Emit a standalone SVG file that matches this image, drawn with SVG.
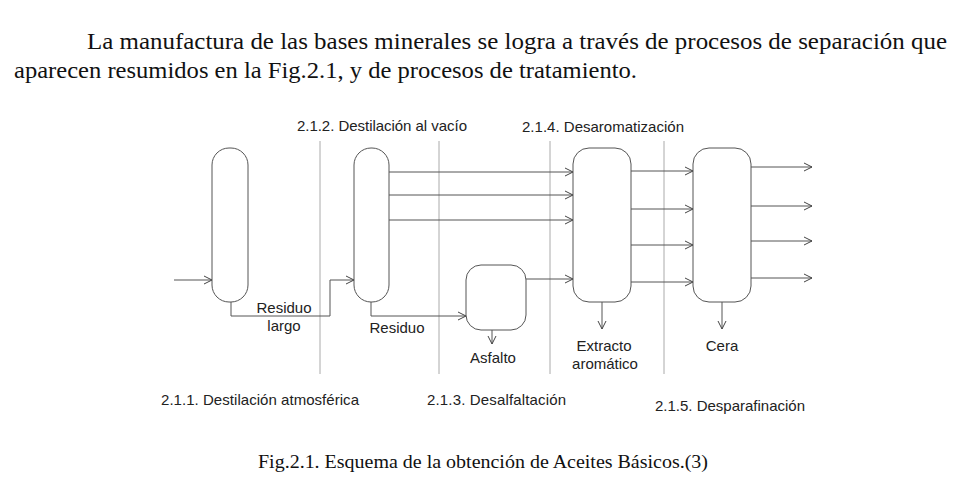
<svg xmlns="http://www.w3.org/2000/svg" width="968" height="484" viewBox="0 0 968 484">
<style>
.u{fill:none;stroke:#555;stroke-width:1}
.sep{stroke:#aaa;stroke-width:1}
.c{fill:none;stroke:#555;stroke-width:1}
.l{font-family:"Liberation Sans",Arial,sans-serif;font-size:15px;fill:#222}
.t{font-family:"Liberation Serif","Times New Roman",serif;font-size:24px;fill:#111}
.cap{font-family:"Liberation Serif","Times New Roman",serif;font-size:19px;fill:#111}
</style>
<defs>
<marker id="a" markerUnits="userSpaceOnUse" markerWidth="10" markerHeight="10" refX="9" refY="5" orient="auto">
<path d="M1,1 L9,5 L1,9" fill="none" stroke="#444" stroke-width="1"/>
</marker>
</defs>
<rect width="968" height="484" fill="#fff"/>
<text class="t" x="87" y="49" textLength="860" lengthAdjust="spacingAndGlyphs">La manufactura de las bases minerales se logra a través de procesos de separación que</text>
<text class="t" x="14" y="78" textLength="623" lengthAdjust="spacingAndGlyphs">aparecen resumidos en la Fig.2.1, y de procesos de tratamiento.</text>

<g id="separators">
<line class="sep" x1="320" y1="141" x2="320" y2="374"/>
<line class="sep" x1="439" y1="141" x2="439" y2="374"/>
<line class="sep" x1="550" y1="141" x2="550" y2="374"/>
<line class="sep" x1="664" y1="141" x2="664" y2="374"/>
</g>

<g id="connectors">
<line class="c" x1="174" y1="280" x2="212" y2="280" marker-end="url(#a)"/>
<polyline class="c" points="231,302 231,316 330,316 330,280 354,280" marker-end="url(#a)"/>
<line class="c" x1="389" y1="172" x2="573" y2="172" marker-end="url(#a)"/>
<line class="c" x1="389" y1="195" x2="573" y2="195" marker-end="url(#a)"/>
<line class="c" x1="389" y1="220" x2="573" y2="220" marker-end="url(#a)"/>
<polyline class="c" points="371,302 371,316 466,316" marker-end="url(#a)"/>
<line class="c" x1="526" y1="279" x2="573" y2="279" marker-end="url(#a)"/>
<line class="c" x1="492" y1="330" x2="492" y2="344" marker-end="url(#a)"/>
<line class="c" x1="631" y1="171" x2="693" y2="171" marker-end="url(#a)"/>
<line class="c" x1="631" y1="209" x2="693" y2="209" marker-end="url(#a)"/>
<line class="c" x1="631" y1="245" x2="693" y2="245" marker-end="url(#a)"/>
<line class="c" x1="631" y1="282" x2="693" y2="282" marker-end="url(#a)"/>
<line class="c" x1="602" y1="302" x2="602" y2="329" marker-end="url(#a)"/>
<line class="c" x1="751" y1="167" x2="812" y2="167" marker-end="url(#a)"/>
<line class="c" x1="751" y1="206" x2="812" y2="206" marker-end="url(#a)"/>
<line class="c" x1="751" y1="241" x2="812" y2="241" marker-end="url(#a)"/>
<line class="c" x1="751" y1="278" x2="812" y2="278" marker-end="url(#a)"/>
<line class="c" x1="722" y1="302" x2="722" y2="329" marker-end="url(#a)"/>
</g>

<g id="col1"><rect class="u" x="212" y="148" width="36" height="154" rx="17" ry="17"/></g>
<g id="col2"><rect class="u" x="354" y="148" width="35" height="154" rx="17" ry="17"/></g>
<g id="asfalto"><rect class="u" x="466" y="265" width="60" height="65" rx="15" ry="15"/></g>
<g id="col3"><rect class="u" x="573" y="148" width="58" height="154" rx="16" ry="16"/></g>
<g id="col4"><rect class="u" x="693" y="148" width="58" height="154" rx="16" ry="16"/></g>

<g id="labels">
<text class="l" x="297" y="131" textLength="170">2.1.2. Destilación al vacío</text>
<text class="l" x="522" y="132" textLength="162">2.1.4. Desaromatización</text>
<text class="l" x="161" y="405" textLength="198">2.1.1. Destilación atmosférica</text>
<text class="l" x="427" y="405" textLength="139">2.1.3. Desalfaltación</text>
<text class="l" x="655" y="411" textLength="150">2.1.5. Desparafinación</text>
<text class="l" x="284" y="313" text-anchor="middle">Residuo</text>
<text class="l" x="284" y="331" text-anchor="middle">largo</text>
<text class="l" x="397" y="333" text-anchor="middle">Residuo</text>
<text class="l" x="493" y="363" text-anchor="middle">Asfalto</text>
<text class="l" x="604" y="351" text-anchor="middle">Extracto</text>
<text class="l" x="605" y="369" text-anchor="middle">aromático</text>
<text class="l" x="722" y="351" text-anchor="middle">Cera</text>
</g>

<text class="cap" x="258" y="468" textLength="450" lengthAdjust="spacingAndGlyphs">Fig.2.1. Esquema de la obtención de Aceites Básicos.(3)</text>
</svg>
